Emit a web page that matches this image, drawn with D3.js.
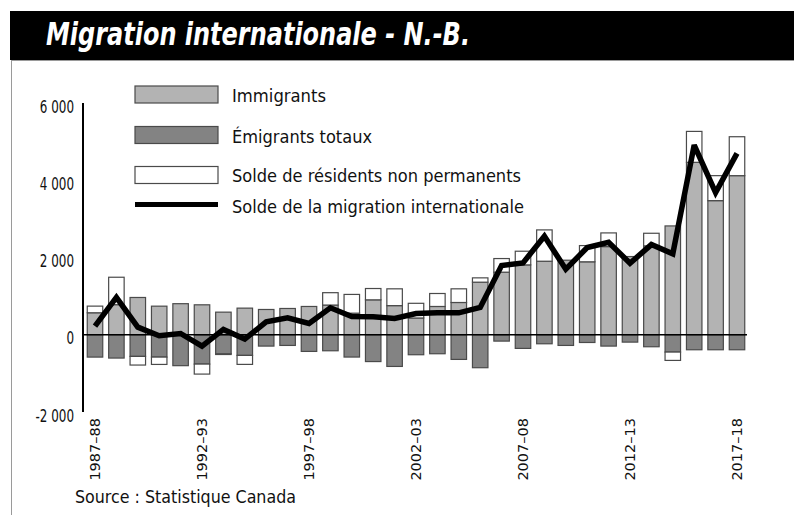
<!DOCTYPE html>
<html><head><meta charset="utf-8">
<script src="https://cdn.jsdelivr.net/npm/d3@7"></script>
<style>
html,body{margin:0;padding:0;background:#fff;}
svg{display:block;}
</style></head>
<body>
<svg id="chart" width="794" height="515"></svg>
<script>
const years = ["1987–88","1988–89","1989–90","1990–91","1991–92","1992–93","1993–94","1994–95","1995–96","1996–97","1997–98","1998–99","1999–00","2000–01","2001–02","2002–03","2003–04","2004–05","2005–06","2006–07","2007–08","2008–09","2009–10","2010–11","2011–12","2012–13","2013–14","2014–15","2015–16","2016–17","2017–18"];
const immigrants = [570,780,966,741,805,776,586,690,655,681,733,770,560,905,755,435,733,836,1362,1621,1810,1905,1931,1890,2284,2026,2302,2819,4466,3474,4121];
const emigrants = [578,603,560,578,800,759,491,534,293,276,431,414,577,694,820,517,491,638,853,164,353,233,276,200,293,190,310,448,388,388,388];
const nonPermanent = [172,710,-224,-190,0,-259,-20,-233,0,0,0,320,485,293,435,380,336,354,112,353,354,811,0,420,354,0,327,-216,801,647,1008];
const netMigration = [224,966,198,-26,34,-293,138,-112,336,440,293,698,474,466,422,552,569,569,707,1793,1862,2552,1698,2259,2397,1853,2336,2095,4914,3681,4698];
const yTicks = [6000,4000,2000,0,-2000];
const tickLabels = ["6 000","4 000","2 000","0","-2 000"];
const xLabelYears = ["1987–88","1992–93","1997–98","2002–03","2007–08","2012–13","2017–18"];
const legendLabels = ["Immigrants","Émigrants totaux","Solde de résidents non permanents","Solde de la migration internationale"];
const titleText = "Migration internationale - N.-B.";
const sourceText = "Source : Statistique Canada";

const COND = "'DejaVu Sans Condensed','Liberation Sans Narrow','DejaVu Sans',sans-serif";
const colImm = "#b3b3b3", colEmi = "#838383", colStroke = "#4a4a4a";

const svg = d3.select("#chart");

function fitWidth(sel, w){
  sel.each(function(){ this.setAttribute("textLength", w); this.setAttribute("lengthAdjust","spacingAndGlyphs"); });
}
function condense(sel, f){
  sel.each(function(){ const l = this.getComputedTextLength(); this.setAttribute("textLength", l*f); this.setAttribute("lengthAdjust","spacingAndGlyphs"); });
}

// header band and frame
svg.append("rect").attr("x",10).attr("y",11).attr("width",784).attr("height",49).attr("fill","#000");
svg.append("line").attr("x1",11.5).attr("x2",11.5).attr("y1",60).attr("y2",515).attr("stroke","#9a9a9a").attr("stroke-width",1);
svg.append("line").attr("x1",11).attr("x2",794).attr("y1",60.5).attr("y2",60.5).attr("stroke","#9a9a9a").attr("stroke-width",1);

svg.append("text").attr("x",46).attr("y",45)
  .attr("font-family",COND).attr("font-weight","bold").attr("font-style","italic")
  .attr("font-size",32).attr("fill","#fff").text(titleText).call(fitWidth,424);

const x = d3.scaleBand().domain(years).range([84.3,747.7]).paddingInner(0.276).paddingOuter(0.138);
const y = d3.scaleLinear().domain([-2000,6000]).range([412.0,103.1]);

const g = svg.append("g");
const data = years.map((yr,i)=>({yr, imm:immigrants[i], emi:emigrants[i], npr:nonPermanent[i], net:netMigration[i]}));

const bw = x.bandwidth();
// immigrants
g.selectAll("rect.imm").data(data).join("rect").attr("class","imm")
  .attr("x",d=>x(d.yr)).attr("width",bw)
  .attr("y",d=>y(d.imm)).attr("height",d=>y(0)-y(d.imm))
  .attr("fill",colImm).attr("stroke",colStroke).attr("stroke-width",1.2);
// emigrants
g.selectAll("rect.emi").data(data).join("rect").attr("class","emi")
  .attr("x",d=>x(d.yr)).attr("width",bw)
  .attr("y",y(0)).attr("height",d=>y(-d.emi)-y(0))
  .attr("fill",colEmi).attr("stroke",colStroke).attr("stroke-width",1.2);
// non-permanent residents (stacked)
g.selectAll("rect.npr").data(data.filter(d=>d.npr!==0)).join("rect").attr("class","npr")
  .attr("x",d=>x(d.yr)).attr("width",bw)
  .attr("y",d=> d.npr>0 ? y(d.imm+d.npr) : y(-d.emi))
  .attr("height",d=> d.npr>0 ? y(d.imm)-y(d.imm+d.npr) : y(-d.emi+d.npr)-y(-d.emi))
  .attr("fill","#fff").attr("stroke",colStroke).attr("stroke-width",1.2);

// zero line
svg.append("line").attr("x1",83).attr("x2",747).attr("y1",y(0)).attr("y2",y(0)).attr("stroke","#000").attr("stroke-width",1.6);
// y axis line
svg.append("line").attr("x1",83).attr("x2",83).attr("y1",y(6000)).attr("y2",y(-2000)).attr("stroke","#000").attr("stroke-width",2);

// net migration line
const line = d3.line().x(d=>x(d.yr)+bw/2).y(d=>y(d.net));
svg.append("path").datum(data).attr("d",line).attr("fill","none").attr("stroke","#000").attr("stroke-width",5.5).attr("stroke-linejoin","miter").attr("stroke-miterlimit",3);

// y tick labels
svg.append("g").selectAll("text").data(yTicks).join("text")
  .attr("x",74).attr("y",d=>y(d)+9.5).attr("text-anchor","end")
  .attr("font-family",COND).attr("font-size",17).attr("fill","#111")
  .text((d,i)=>tickLabels[i]).call(condense,0.78);

// x labels
svg.append("g").selectAll("text").data(xLabelYears).join("text")
  .attr("transform",d=>`translate(${x(d)+bw/2},418) rotate(-90)`)
  .attr("text-anchor","end").attr("dy","0.36em")
  .attr("font-family","'DejaVu Sans',sans-serif").attr("font-size",14.5).attr("fill","#111")
  .text(d=>d);

// legend
const lg = svg.append("g");
const swY = [86,126.5,166.5];
const swFill = [colImm,colEmi,"#fff"];
lg.selectAll("rect").data(swY).join("rect")
  .attr("x",135).attr("y",d=>d).attr("width",83).attr("height",17)
  .attr("fill",(d,i)=>swFill[i]).attr("stroke",colStroke).attr("stroke-width",1.2);
lg.append("line").attr("x1",135).attr("x2",218).attr("y1",204.6).attr("y2",204.6).attr("stroke","#000").attr("stroke-width",5);
const lgBase = [101.5,142.5,181.5,213];
const lgW = [94,140,289,292];
lg.selectAll("text").data(legendLabels).join("text")
  .attr("x",232).attr("y",(d,i)=>lgBase[i])
  .attr("font-family",COND).attr("font-size",17).attr("fill","#111")
  .text(d=>d)
  .each(function(d,i){ this.setAttribute("textLength",lgW[i]); this.setAttribute("lengthAdjust","spacingAndGlyphs"); });

svg.append("text").attr("x",75).attr("y",503)
  .attr("font-family",COND).attr("font-size",17).attr("fill","#111")
  .text(sourceText).call(fitWidth,221);
</script>
</body></html>
